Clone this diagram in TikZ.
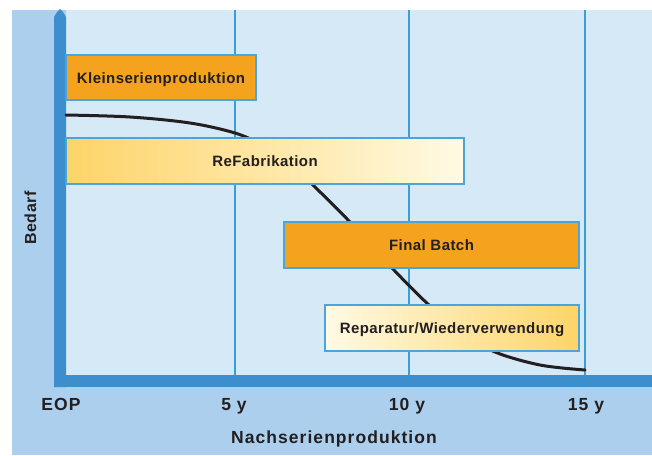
\documentclass[tikz,border=0pt]{standalone}
\usepackage{fontspec}
\setmainfont{Liberation Sans}[LetterSpace=3]
\definecolor{outerbg}{HTML}{ABCFEC}
\definecolor{innerbg}{HTML}{D6E9F7}
\definecolor{axisblue}{HTML}{3D8ECD}
\definecolor{gridblue}{HTML}{3A9EDC}
\definecolor{boxborder}{HTML}{4CA4DB}
\definecolor{boxorange}{HTML}{F5A31F}
\definecolor{yellowdark}{HTML}{FDD468}
\definecolor{yellowlight}{HTML}{FFFAE4}
\definecolor{textdark}{HTML}{231F20}
\begin{document}
\begin{tikzpicture}[x=1pt,y=-1pt,
  barbox/.style={draw=boxborder, line width=2pt, inner sep=0pt,
    text=textdark, font=\fontsize{15}{15}\selectfont\bfseries,
    text height=11pt, text depth=0pt},
  orangebox/.style={barbox, fill=boxorange},
  axislabel/.style={text=textdark, anchor=base, inner sep=0pt,
    font=\fontsize{17.5}{17.5}\selectfont\bfseries\addfontfeatures{LetterSpace=6}},
  gridline/.style={draw=gridblue, line width=2pt},
  demand/.style={draw=textdark, line width=3pt, line cap=round}
]
\useasboundingbox (0,0) rectangle (652,455);
\fill[white] (0,0) rectangle (652,455);
% backgrounds
\fill[outerbg] (12,10) rectangle (652,455);
\fill[innerbg] (66,10) rectangle (652,375);
% grid lines
\draw[gridline] (235,10) -- (235,375);
\draw[gridline] (409,10) -- (409,375);
\draw[gridline] (585,10) -- (585,375);
% axes
\fill[axisblue] (54,387) -- (54,17) -- (57,12) -- (60,9) -- (63,12) -- (66,17) -- (66,387) -- cycle;
\fill[axisblue] (54,375) rectangle (652,387);
% demand curve
\coordinate (cstart) at (66,115);
\coordinate (cend) at (585,370);
\draw[demand] plot[smooth, tension=0.55] coordinates {(66,115) (130,117) (190,123) (235,133) (262,145) (290,163) (315,187) (350,222) (392,268) (430,306) (463,333) (495,352) (540,365) (585,370)};
% boxes
\node[orangebox, minimum width=190pt, minimum height=45pt] (klein) at (161,77.5) {Kleinserienproduktion};
\node[barbox, left color=yellowdark, right color=yellowlight, minimum width=398pt, minimum height=46pt] (refab) at (265,161) {ReFabrikation};
\node[orangebox, minimum width=295pt, minimum height=46pt] (final) at (431.5,245) {Final Batch};
\node[barbox, left color=yellowlight, right color=yellowdark, minimum width=254pt, minimum height=46pt] (repar) at (452,328) {Reparatur/Wiederverwendung};
% axis labels
\node[axislabel] (eop) at (61,410) {EOP};
\node[axislabel] (y5) at (234,410) {5 y};
\node[axislabel] (y10) at (407,410) {10 y};
\node[axislabel] (y15) at (586,410) {15 y};
\node[axislabel] (xtitle) at (334,443) {Nachserienproduktion};
\node[text=textdark, inner sep=0pt, anchor=base, rotate=90,
  font=\fontsize{16}{16}\selectfont\bfseries\addfontfeatures{LetterSpace=4}] (ytitle) at (36,218) {Bedarf};
\end{tikzpicture}
\end{document}
